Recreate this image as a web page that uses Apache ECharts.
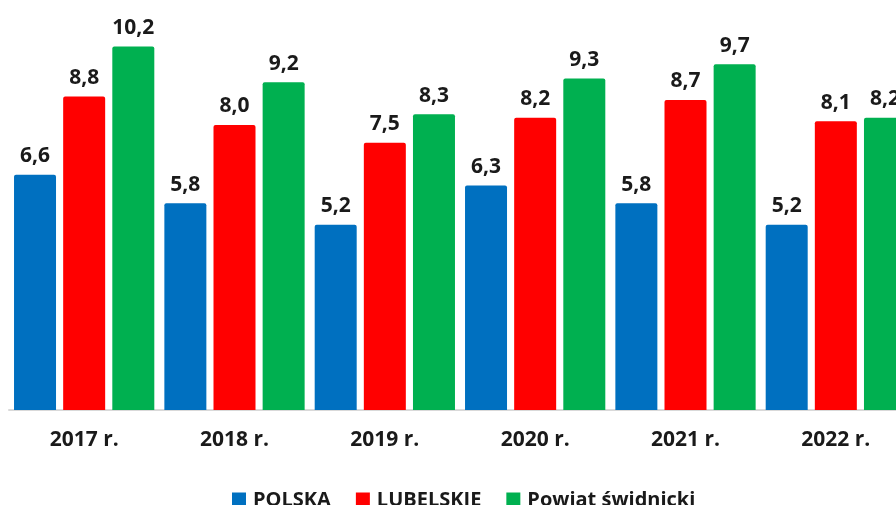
<!DOCTYPE html>
<html>
<head>
<meta charset="utf-8">
<script src="https://cdn.jsdelivr.net/npm/echarts@6/dist/echarts.min.js"></script>
<style>
  html, body { margin: 0; padding: 0; background: #fff; }
  #chart { width: 896px; height: 505px; }
</style>
</head>
<body>
<div id="chart"></div>
<script>
var myChart = echarts.init(document.getElementById('chart'));

// lata
var years = ['2017 r.', '2018 r.', '2019 r.', '2020 r.', '2021 r.', '2022 r.'];
// wartości serii
var polska = [6.6, 5.8, 5.2, 6.3, 5.8, 5.2];
var lubelskie = [8.8, 8.0, 7.5, 8.2, 8.7, 8.1];
var powiat = [10.2, 9.2, 8.3, 9.3, 9.7, 8.2];

var fontFam = '"Open Sans", sans-serif';

function label() {
    return {
        show: true,
        position: 'top',
        distance: 8,
        color: '#1a1a1a',
        fontSize: 21,
        fontWeight: 'bold',
        fontFamily: fontFam,
        formatter: function (p) {
            return p.value.toFixed(1).replace('.', ',');
        }
    };
}

function makeSeries(name, data, color) {
    return {
        name: name,
        type: 'bar',
        data: data,
        barWidth: 42,
        barGap: '17%',
        itemStyle: { color: color, borderRadius: [2, 2, 0, 0] },
        label: label()
    };
}

var option = {
    backgroundColor: '#fff',
    animation: false,
    grid: {
        left: 9,
        top: 18,
        width: 902,
        height: 392,
        outerBoundsMode: 'none'
    },
    legend: {
        left: 227,
        top: 485,
        itemWidth: 14,
        itemHeight: 15,
        itemGap: 25,
        icon: 'rect',
        textStyle: {
            color: '#1a1a1a',
            fontSize: 20,
            fontWeight: 'bold',
            fontFamily: fontFam,
            padding: [0, 0, 0, 2]
        },
        data: ['POLSKA', 'LUBELSKIE', 'Powiat świdnicki']
    },
    xAxis: {
        type: 'category',
        data: years,
        axisLine: { lineStyle: { color: '#d9d9d9', width: 2 } },
        axisTick: { show: false },
        axisLabel: {
            margin: 20,
            color: '#1a1a1a',
            fontSize: 21,
            fontWeight: 'bold',
            fontFamily: fontFam
        }
    },
    yAxis: {
        type: 'value',
        min: 0,
        max: 11,
        show: false,
        splitLine: { show: false }
    },
    series: [
        makeSeries('POLSKA', polska, '#0070C0'),
        makeSeries('LUBELSKIE', lubelskie, '#FF0000'),
        makeSeries('Powiat świdnicki', powiat, '#00B050')
    ]
};

myChart.setOption(option);
</script>
</body>
</html>
